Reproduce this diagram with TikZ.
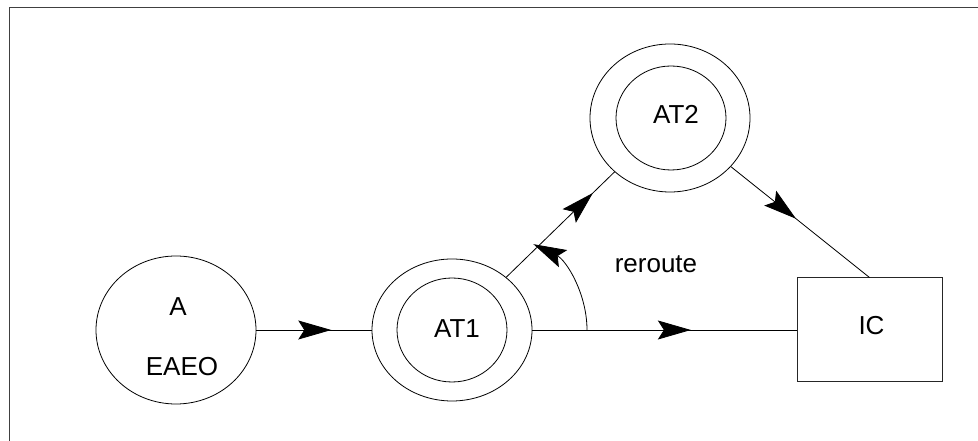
\documentclass[tikz,border=0pt]{standalone}
\usepackage{fontspec}
\setmainfont{Liberation Sans}
\usetikzlibrary{arrows.meta,shapes.geometric,decorations.markings}
\begin{document}
\begin{tikzpicture}[x=1pt,y=1pt,
  myhead/.tip={Stealth[length=33pt,width=19pt,inset=6pt]},
  line/.style={draw=black,line width=0.8pt},
  midarrow/.style={postaction={decorate},decoration={markings,mark=at position #1 with {\arrow{myhead}}}},
  ell/.style={ellipse,draw=black,line width=0.8pt,inner sep=0pt},
  lab/.style={font=\fontsize{26}{30}\selectfont,inner sep=0pt}]
\useasboundingbox (0,0) rectangle (978,441);
\draw[draw=black!75,line width=1.6pt] (9.5,0) -- (9.5,433.5) -- (978,433.5);
% A
\node[ell,minimum width=160pt,minimum height=148pt] (A) at (176,111) {};
\node[lab] (Alab) at (178,134) {A};
\node[lab] (Elab) at (182,74) {EAEO};
% AT1
\node[ell,minimum width=160pt,minimum height=142pt] (AT1) at (452,111) {};
\node[ell,minimum width=110pt,minimum height=104pt] (AT1in) at (452,111) {};
\node[lab] (AT1lab) at (457,112.5) {AT1};
% AT2
\node[ell,minimum width=160pt,minimum height=148pt] (AT2) at (670,323) {};
\node[ell,minimum width=110pt,minimum height=104pt] (AT2in) at (671,323) {};
\node[lab] (AT2lab) at (676,327) {AT2};
% IC
\node[draw=black!85,line width=1pt,minimum width=145pt,minimum height=104pt,inner sep=0pt] (IC) at (869.5,111) {};
\node[lab] (IClab) at (871.5,115) {IC};
% connectors
\draw[line,midarrow=0.65] (A.east) -- (AT1.west);
\draw[line,midarrow=0.60] (AT1.east) -- (IC.west);
\draw[line,midarrow=0.80] (AT1) -- (AT2);
\draw[line,midarrow=0.47] (AT2) -- (IC.north);
% reroute arc
\coordinate (arcstart) at (587,111);
\draw[line,-{myhead}] (arcstart) arc[start angle=0,end angle=64,radius=95.5pt];
\node[lab] (reroute) at (656,177) {reroute};
\end{tikzpicture}
\end{document}
